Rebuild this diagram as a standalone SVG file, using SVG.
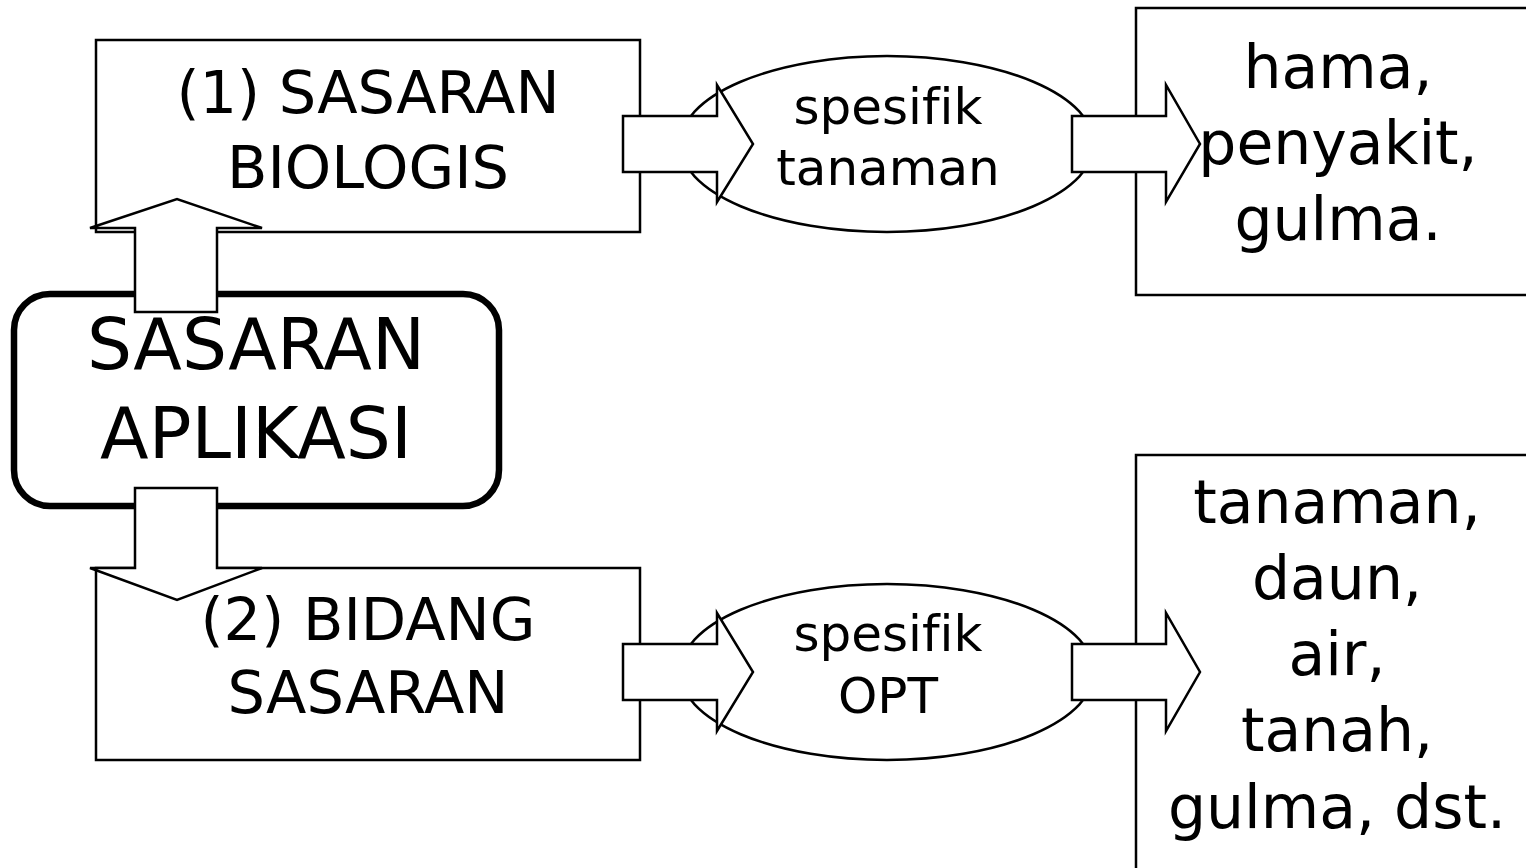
<svg xmlns="http://www.w3.org/2000/svg" width="1526" height="868" viewBox="0 0 1526 868">
  <style>
    .box { fill: #ffffff; stroke: #000000; stroke-width: 2.5; }
    .main { fill: #ffffff; stroke: #000000; stroke-width: 6.5; }
    .oval { fill: #ffffff; stroke: #000000; stroke-width: 2.5; }
    .arrow { fill: #ffffff; stroke: #000000; stroke-width: 2.5; stroke-linejoin: miter; }
    text { font-family: "DejaVu Sans", "Liberation Sans", sans-serif; fill: #000000; text-anchor: middle; font-variant-ligatures: none; font-feature-settings: "liga" 0; }
    .t58 { font-size: 59px; }
    .t71 { font-size: 71px; }
    .t50 { font-size: 50px; }
    .t60 { font-size: 60px; }
  </style>
  <rect width="1526" height="868" fill="#ffffff"/>

  <!-- boxes -->
  <g id="node-biologis">
    <rect class="box" x="96" y="40" width="544" height="192"/>
  </g>
  <g id="node-bidang">
    <rect class="box" x="96" y="568" width="544" height="192"/>
  </g>
  <g id="node-aplikasi">
    <rect class="main" x="14" y="294" width="485" height="212" rx="36" ry="36"/>
  </g>
  <g id="node-spesifik-tanaman">
    <ellipse class="oval" cx="887" cy="144" rx="207" ry="88"/>
  </g>
  <g id="node-spesifik-opt">
    <ellipse class="oval" cx="887" cy="672" rx="207" ry="88"/>
  </g>
  <g id="node-hama">
    <rect class="box" x="1136" y="8" width="420" height="287"/>
  </g>
  <g id="node-tanaman">
    <rect class="box" x="1136" y="455" width="420" height="440"/>
  </g>

  <!-- block arrows -->
  <g id="connectors">
    <polygon class="arrow" points="135,312 135,228 90,228 177,199 262,228 217,228 217,312"/>
    <polygon class="arrow" points="135,488 217,488 217,568 262,568 177,600 90,568 135,568"/>
    <polygon class="arrow" points="623,116 717,116 717,85 753,144 717,202 717,172 623,172"/>
    <polygon class="arrow" points="1072,116 1166,116 1166,85 1200,144 1166,202 1166,172 1072,172"/>
    <polygon class="arrow" points="623,644 717,644 717,613 753,672 717,731 717,700 623,700"/>
    <polygon class="arrow" points="1072,644 1166,644 1166,613 1200,672 1166,731 1166,700 1072,700"/>
  </g>

  <!-- labels -->
  <g id="labels">
    <text class="t58" x="368" y="113">(1) SASARAN</text>
    <text class="t58" x="368" y="188">BIOLOGIS</text>
    <text class="t58" x="368" y="640">(2) BIDANG</text>
    <text class="t58" x="368" y="713">SASARAN</text>
    <text class="t71" x="256" y="369">SASARAN</text>
    <text class="t71" x="256" y="458">APLIKASI</text>
    <text class="t50" x="888" y="124">spesifik</text>
    <text class="t50" x="888" y="185">tanaman</text>
    <text class="t50" x="888" y="651">spesifik</text>
    <text class="t50" x="888" y="713">OPT</text>
    <text class="t60" x="1338" y="88">hama,</text>
    <text class="t60" x="1338" y="164">penyakit,</text>
    <text class="t60" x="1338" y="240">gulma.</text>
    <text class="t60" x="1337" y="523">tanaman,</text>
    <text class="t60" x="1337" y="599">daun,</text>
    <text class="t60" x="1337" y="675">air,</text>
    <text class="t60" x="1337" y="751">tanah,</text>
    <text class="t60" x="1337" y="828">gulma, dst.</text>
  </g>
</svg>
